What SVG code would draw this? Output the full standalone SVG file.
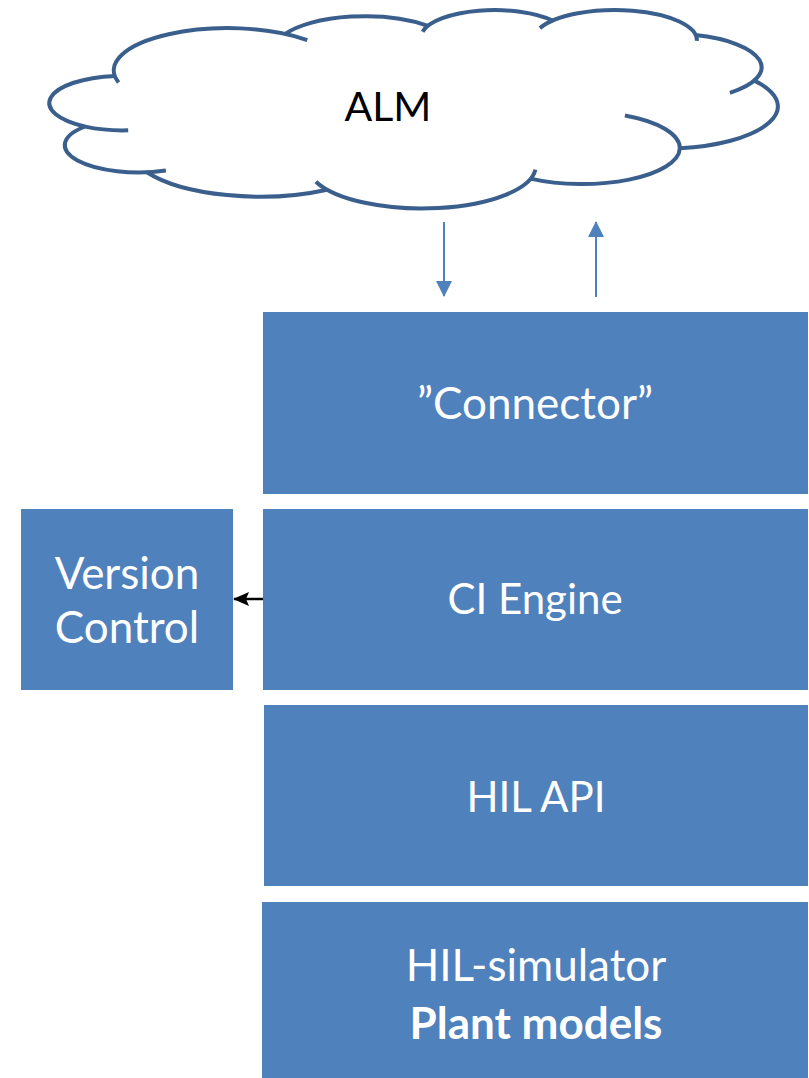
<svg xmlns="http://www.w3.org/2000/svg" width="809" height="1078" viewBox="0 0 809 1078">
  <style>
    .box { fill: #4F81BD; }
    .label { font-family: Lato, "Liberation Sans", sans-serif; font-size: 42px; fill: #FFFFFF; text-anchor: middle; }
    .wide { font-size: 44px; }
    .bold { font-weight: bold; font-size: 44px; }
    .cloud-fill { fill: #FFFFFF; stroke: none; }
    .cloud-line { fill: none; stroke: #3A5F8D; stroke-width: 4; stroke-linecap: butt; }
    .flow { fill: none; stroke: #4F81BD; stroke-width: 2; }
    .link { fill: none; stroke: #000000; stroke-width: 2.5; }
  </style>
  <defs>
    <marker id="headBlue" viewBox="0 0 16 16" refX="15" refY="8" markerWidth="16" markerHeight="16" markerUnits="userSpaceOnUse" orient="auto">
      <path d="M0,0 L16,8 L0,16 Z" fill="#4F81BD"/>
    </marker>
    <marker id="headBlack" viewBox="0 0 16 16" refX="15" refY="8" markerWidth="16" markerHeight="16" markerUnits="userSpaceOnUse" orient="auto">
      <path d="M0,1 L16,8 L0,15 L3,8 Z" fill="#000000"/>
    </marker>
  </defs>

  <!-- ALM cloud: white body, then each lobe stroked with its inner tail -->
  <g id="alm">
    <path class="cloud-fill" d="M114.9,75.9 A113.96,42.23 0 0 1 285.3,33.9 A90,33.39 0 0 1 427.9,25.8 A73.66,27.32 0 0 1 553.2,20.9 A81.96,30.3 0 0 1 695.6,35 A90,33.42 0 0 1 754.3,80.6 A114.33,42.37 0 0 1 679.9,148.3 A97.62,36.15 0 0 1 530.5,178.6 A113.94,42.34 0 0 1 327.1,189.7 A130.28,48.44 0 0 1 146.9,172.2 A73.58,27.19 0 0 1 84.9,126.5 A73.32,27.32 0 0 1 114.9,75.9 Z"/>
    <path class="cloud-line" d="M118.6,82.5 A113.96,42.23 0 0 1 307.3,40.1"/>
    <path class="cloud-line" d="M285.3,33.9 A90,33.39 0 0 1 427.9,25.8"/>
    <path class="cloud-line" d="M422.6,31.7 A73.66,27.32 0 0 1 553.2,20.9"/>
    <path class="cloud-line" d="M539.9,28.1 A81.96,30.3 0 0 1 696.9,40.8"/>
    <path class="cloud-line" d="M695.3,35.1 A90,33.42 0 0 1 729.9,92.8"/>
    <path class="cloud-line" d="M754.3,80.6 A114.33,42.37 0 0 1 679.9,148.3"/>
    <path class="cloud-line" d="M624.9,115.5 A97.62,36.15 0 0 1 679.8,148.3 A97.62,36.15 0 0 1 530.5,178.6"/>
    <path class="cloud-line" d="M535.4,169.6 A113.94,42.34 0 0 1 315.9,181.7"/>
    <path class="cloud-line" d="M327.1,189.7 A130.28,48.44 0 0 1 146.9,172.2"/>
    <path class="cloud-line" d="M165.9,170.4 A73.58,27.19 0 0 1 84.9,126.5"/>
    <path class="cloud-line" d="M128.2,130.3 A73.32,27.32 0 0 1 85.4,126.6 A73.32,27.32 0 0 1 114.9,75.9"/>
    <text x="388" y="121" font-family="Lato, 'Liberation Sans', sans-serif" font-size="41" fill="#000000" text-anchor="middle">ALM</text>
  </g>

  <g id="connector">
    <rect class="box" x="263" y="312" width="545" height="182"/>
    <text class="label wide" x="535" y="419">”Connector”</text>
  </g>

  <g id="ci-engine">
    <rect class="box" x="263" y="509" width="545" height="181"/>
    <text class="label" x="535" y="614">CI Engine</text>
  </g>

  <g id="version-control">
    <rect class="box" x="21" y="509" width="212" height="181"/>
    <text class="label wide" x="127" y="589">Version</text>
    <text class="label wide" x="127" y="643">Control</text>
  </g>

  <g id="hil-api">
    <rect class="box" x="264" y="705" width="544" height="181"/>
    <text class="label" x="536" y="812">HIL API</text>
  </g>

  <g id="hil-simulator">
    <rect class="box" x="262" y="902" width="546" height="176"/>
    <text class="label wide" x="536" y="981">HIL-simulator</text>
    <text class="label bold" x="536" y="1039">Plant models</text>
  </g>

  <g id="connectors">
    <line class="flow" x1="444" y1="222" x2="444" y2="296" marker-end="url(#headBlue)"/>
    <line class="flow" x1="596" y1="297" x2="596" y2="222" marker-end="url(#headBlue)"/>
    <line class="link" x1="263" y1="599" x2="234" y2="599" marker-end="url(#headBlack)"/>
  </g>
</svg>
